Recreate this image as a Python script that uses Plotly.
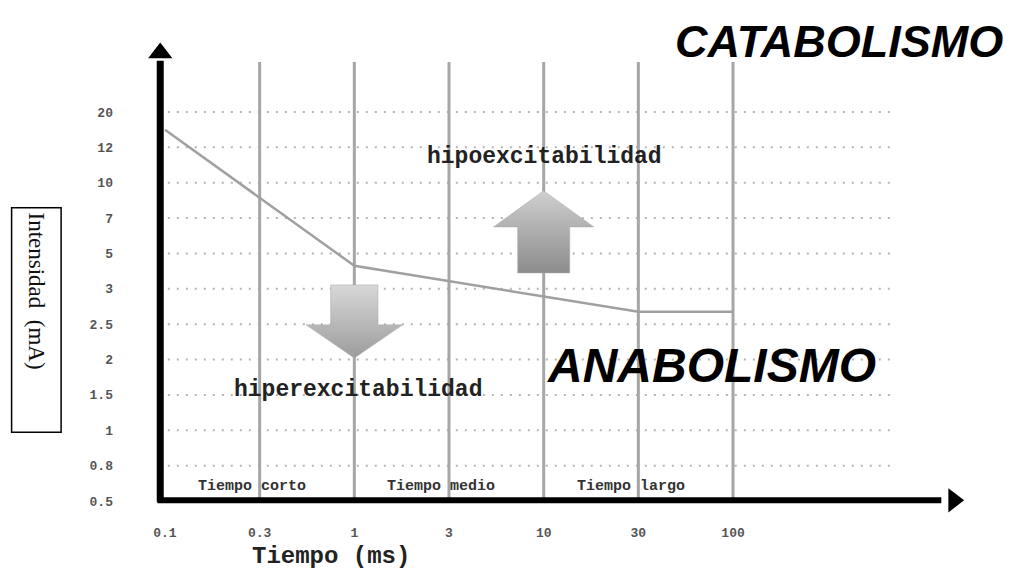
import plotly.graph_objects as go

# category ticks of the two axes (both drawn evenly spaced)
time_labels = ["0.1", "0.3", "1", "3", "10", "30", "100"]
intensity_labels = ["0.5", "0.8", "1", "1.5", "2", "2.5", "3", "5", "7", "10", "12", "20"]

# threshold curve: time category -> intensity position on the category scale
curve_time = ["0.1", "1", "30", "100"]
curve_level = [10.5, 6.65, 5.35, 5.35]

# vertical dividers and the time phases between them
divider_times = ["0.3", "1", "3", "10", "30", "100"]
phase_names = ["Tiempo corto", "Tiempo medio", "Tiempo largo"]
phase_bounds = [("0.1", "1"), ("1", "10"), ("10", "100")]

SERIF_MONO = "Liberation Mono"
GRID = "#b4b4b4"
DIVIDER = "#a6a6a6"


def tx(label):
    return time_labels.index(label)


def block_arrow(cx, y_base, y_neck, y_tip, half_shaft, half_head):
    xs = [cx - half_shaft, cx + half_shaft, cx + half_shaft, cx + half_head, cx,
          cx - half_head, cx - half_shaft, cx - half_shaft]
    ys = [y_base, y_base, y_neck, y_neck, y_tip, y_neck, y_neck, y_base]
    return xs, ys


fig = go.Figure()

# dotted grid rows
gx, gy = [], []
for i in range(1, len(intensity_labels)):
    gx += [0.03, 7.7, None]
    gy += [i, i, None]
fig.add_trace(go.Scatter(x=gx, y=gy, mode="lines", hoverinfo="skip",
                         line={"color": GRID, "width": 2, "dash": "2px,7px"}))

# vertical dividers
vx, vy = [], []
for t in divider_times:
    vx += [tx(t), tx(t), None]
    vy += [0, 12.41, None]
fig.add_trace(go.Scatter(x=vx, y=vy, mode="lines", hoverinfo="skip",
                         line={"color": DIVIDER, "width": 3}))

# threshold curve
fig.add_trace(go.Scatter(x=[tx(t) for t in curve_time], y=curve_level, mode="lines",
                         hoverinfo="skip", line={"color": "#a0a0a0", "width": 2.5}))

# big grey arrows
for (xs, ys), scale in (
    (block_arrow(tx("1"), 6.11, 4.98, 4.04, 0.25, 0.51), [[0, "#9c9c9c"], [1, "#d8d8d8"]]),
    (block_arrow(tx("10"), 6.45, 7.75, 8.77, 0.275, 0.53), [[0, "#8c8c8c"], [1, "#cfcfcf"]]),
):
    fig.add_trace(go.Scatter(x=xs, y=ys, mode="lines", fill="toself", hoverinfo="skip",
                             line={"color": "#a8a8a8", "width": 0.5},
                             fillgradient={"type": "vertical", "colorscale": scale}))

# black axes with arrow heads
fig.add_trace(go.Scatter(x=[-0.05, -0.05], y=[12.45, -0.02], mode="lines", hoverinfo="skip",
                         line={"color": "black", "width": 7}))
fig.add_trace(go.Scatter(x=[-0.08, 8.2], y=[0.02, 0.02], mode="lines", hoverinfo="skip",
                         line={"color": "black", "width": 6}))
fig.add_trace(go.Scatter(x=[-0.05], y=[12.67], mode="markers", hoverinfo="skip",
                         marker={"symbol": "triangle-up", "size": 21, "color": "black"}))
fig.add_trace(go.Scatter(x=[8.33], y=[0.02], mode="markers", hoverinfo="skip",
                         marker={"symbol": "triangle-right", "size": 21, "color": "black"}))

annotations = [
    dict(x=7.12, y=12.98, text="CATABOLISMO",
         font={"family": "Liberation Sans", "size": 45, "weight": "bold", "style": "italic", "color": "black"}),
    dict(x=5.77, y=3.82, text="ANABOLISMO",
         font={"family": "Liberation Sans", "size": 48, "weight": "bold", "style": "italic", "color": "black"}),
    dict(x=4.01, y=9.73, text="hipoexcitabilidad",
         font={"family": SERIF_MONO, "size": 23, "weight": "bold", "color": "#222"}),
    dict(x=2.04, y=3.14, text="hiperexcitabilidad",
         font={"family": SERIF_MONO, "size": 23, "weight": "bold", "color": "#222"}),
    dict(x=1.75, y=-1.56, text="Tiempo (ms)",
         font={"family": SERIF_MONO, "size": 24, "weight": "bold", "color": "#222"}),
    dict(x=-1.363, y=5.12, text="Intensidad  (mA)", textangle=90, align="left",
         width=215, height=40, borderpad=4, bordercolor="black", borderwidth=1.5,
         font={"family": "Liberation Serif", "size": 23, "color": "#111"}),
]
for name, (a, b) in zip(phase_names, phase_bounds):
    annotations.append(dict(x=(tx(a) + tx(b)) / 2 - 0.08, y=0.40, text=name,
                            font={"family": SERIF_MONO, "size": 15, "weight": "bold", "color": "#333"}))
for a in annotations:
    a.update(xref="x", yref="y", showarrow=False)

tick_font = {"family": SERIF_MONO, "size": 13, "weight": "bold", "color": "#555"}
# the page body adds an 8px offset, so the figure is 8px smaller than the window
fig.update_layout(
    width=1012,
    height=561,
    margin={"l": 0, "r": 0, "t": 0, "b": 0},
    paper_bgcolor="white",
    plot_bgcolor="white",
    showlegend=False,
    annotations=annotations,
    xaxis={"range": [-1.658, 9.031], "anchor": "free", "position": 0.1212,
           "tickmode": "array", "tickvals": list(range(len(time_labels))), "ticktext": time_labels,
           "showgrid": False, "zeroline": False, "showline": False, "ticks": "",
           "ticklabelstandoff": 22, "tickfont": tick_font},
    yaxis={"range": [-1.923, 13.94], "anchor": "free", "position": 0.1551,
           "tickmode": "array", "tickvals": list(range(len(intensity_labels))), "ticktext": intensity_labels,
           "showgrid": False, "zeroline": False, "showline": False, "ticks": "",
           "ticklabelstandoff": 52, "tickfont": tick_font},
)

fig.write_html("out.html")
